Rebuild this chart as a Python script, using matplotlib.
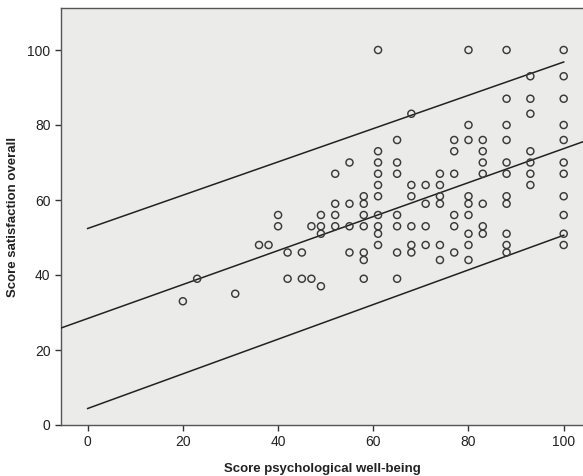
import matplotlib
matplotlib.use("Agg")
import matplotlib.pyplot as plt
import numpy as np

# Data: x column -> list of y values
x_vals = [20, 23, 31, 36, 38, 40, 42, 45, 47, 49, 52, 55, 58, 61, 65, 68, 71, 74, 77, 80, 83, 88, 93, 100]
y_groups = [
    [33],
    [39],
    [35],
    [48],
    [48],
    [56, 53],
    [46, 39],
    [46, 39],
    [53, 39],
    [56, 53, 51, 37],
    [67, 59, 56, 53],
    [70, 59, 53, 46],
    [61, 59, 56, 53, 46, 44, 39],
    [100, 73, 70, 67, 64, 61, 56, 53, 51, 48],
    [76, 70, 67, 56, 53, 46, 39],
    [83, 64, 61, 53, 48, 46],
    [64, 59, 53, 48],
    [67, 64, 61, 59, 48, 44],
    [76, 73, 67, 56, 53, 46],
    [100, 80, 76, 61, 59, 56, 51, 48, 44],
    [76, 73, 70, 67, 59, 53, 51],
    [100, 87, 80, 76, 70, 67, 61, 59, 51, 48, 46],
    [93, 87, 83, 73, 70, 67, 64],
    [100, 93, 87, 80, 76, 70, 67, 61, 56, 51, 48],
]

# Fit line and prediction interval (values at x = 0 and x = 100)
fit_at = [0, 100]
fit_y = [28.4, 73.7]
upper_y = [52.4, 96.8]
lower_y = [4.4, 50.6]

xticks = [0, 20, 40, 60, 80, 100]
yticks = [0, 20, 40, 60, 80, 100]
xlabel = "Score psychological well-being"
ylabel = "Score satisfaction overall"

px = []
py = []
for xv, ys in zip(x_vals, y_groups):
    for yv in ys:
        px.append(xv)
        py.append(yv)

plt.rcParams['font.family'] = ['Liberation Sans', 'DejaVu Sans']

fig = plt.figure(figsize=(5.83, 4.76), dpi=100)
fig.patch.set_facecolor('white')
ax_left = 61 / 583
ax = fig.add_axes([ax_left, 1 - 425/476, 1 - ax_left + 0.002, (425 - 8)/476])
ax.set_facecolor('#ebebea')

xmin, xmax = -5.6, 104.3
ax.set_xlim(xmin, xmax)
ax.set_ylim(0, 111.2)

# fit line extended across axes
slope = (fit_y[1] - fit_y[0]) / (fit_at[1] - fit_at[0])
fx = np.array([xmin, xmax])
ax.plot(fx, fit_y[0] + slope * (fx - fit_at[0]), color='#222222', lw=1.1, zorder=3)
ax.plot(fit_at, upper_y, color='#222222', lw=1.1, zorder=3)
ax.plot(fit_at, lower_y, color='#222222', lw=1.1, zorder=3)

ax.scatter(px, py, s=26, facecolors='none', edgecolors='#3a3a3a', linewidths=1.05, zorder=4)

ax.set_xticks(xticks)
ax.set_yticks(yticks)
ax.tick_params(axis='both', direction='out', length=4, width=1, colors='#333333',
               labelsize=10, labelcolor='#222222')
for s in ['left', 'bottom', 'top']:
    ax.spines[s].set_color('#555555')
    ax.spines[s].set_linewidth(1.0)
ax.spines['right'].set_visible(False)

ax.set_xlabel(xlabel, fontsize=9.5, fontweight='bold', labelpad=10, color='#222222')
ax.set_ylabel(ylabel, fontsize=9.5, fontweight='bold', color='#222222')
ax_w_px = 583 * (1 - ax_left + 0.002)
ax.yaxis.set_label_coords((13 - 61) / ax_w_px, 0.5)
ax.yaxis.label.set_verticalalignment('center')

fig.savefig('out.png', dpi=100)
